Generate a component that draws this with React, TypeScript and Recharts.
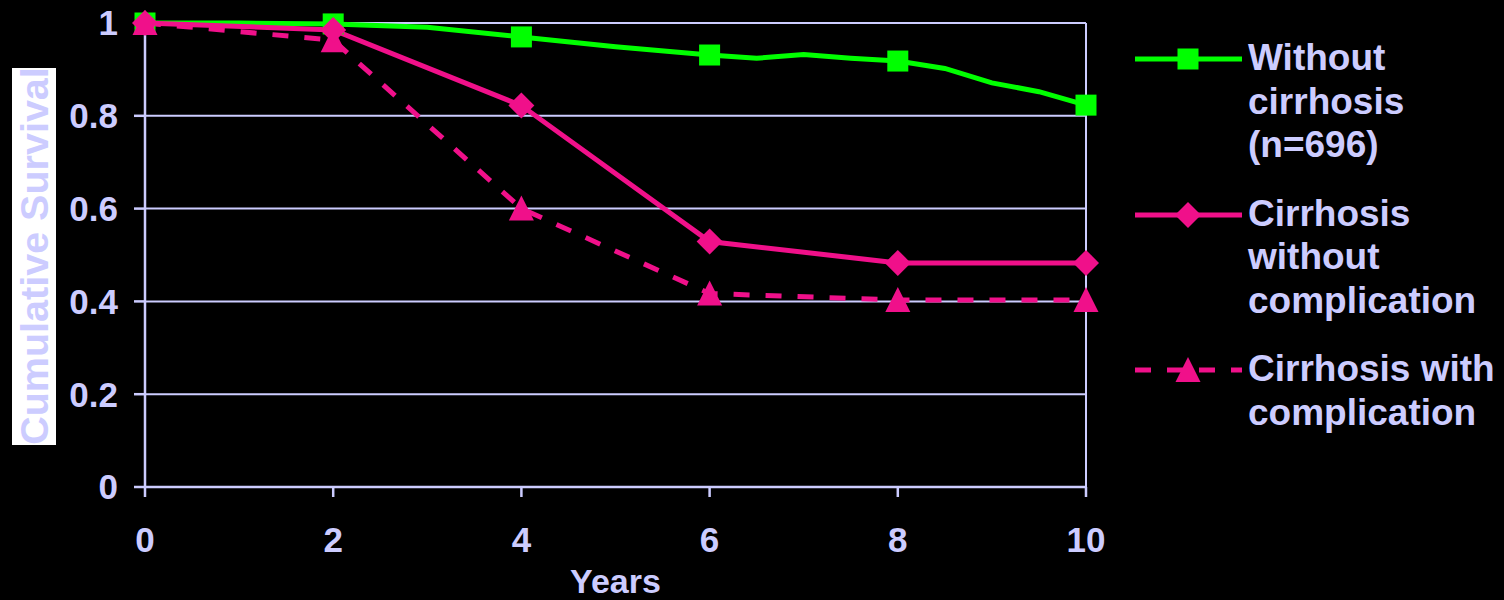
import React from "react"
import { LineChart, Line, XAxis, YAxis, CartesianGrid, ReferenceLine, Legend } from "recharts"

const years = [0, 1, 2, 3, 4, 5, 6, 6.5, 7, 7.5, 8, 8.5, 9, 9.5, 10]
const withoutCirrhosis = [1, 1, 0.998, 0.991, 0.97, 0.949, 0.931, 0.924, 0.932, 0.924, 0.918, 0.902, 0.871, 0.852, 0.823]

const cirrhosisYears = [0, 2, 4, 6, 8, 10]
const cirrhosisNoComp = [1, 0.985, 0.822, 0.529, 0.483, 0.483]

const compYears = [0, 2, 4, 6, 8, 10]
const cirrhosisComp = [1, 0.963, 0.6, 0.417, 0.403, 0.403]

const xTicks = [0, 2, 4, 6, 8, 10]
const yTicks = [0, 0.2, 0.4, 0.6, 0.8, 1]

const legendLabels = [
  ["Without", "cirrhosis", "(n=696)"],
  ["Cirrhosis", "without", "complication"],
  ["Cirrhosis with", "complication"],
]

const LAV = "#ccccff"
const GREEN = "#00ff00"
const PINK = "#f0108a"
const FONT = "'Liberation Sans', Arial, sans-serif"

const greenData = years.map((year, i) => ({ year, value: withoutCirrhosis[i] }))
const solidData = cirrhosisYears.map((year, i) => ({ year, value: cirrhosisNoComp[i] }))
const dashData = compYears.map((year, i) => ({ year, value: cirrhosisComp[i] }))

const Square = ({ cx, cy }: any) => (
  <rect x={cx - 10.5} y={cy - 10.5} width={21} height={21} fill={GREEN} />
)
const Diamond = ({ cx, cy }: any) => (
  <polygon points={`${cx},${cy - 13} ${cx + 13},${cy} ${cx},${cy + 13} ${cx - 13},${cy}`} fill={PINK} />
)
const Triangle = ({ cx, cy }: any) => (
  <polygon points={`${cx},${cy - 13} ${cx + 12.5},${cy + 12} ${cx - 12.5},${cy + 12}`} fill={PINK} />
)

// markers only on the even years
const markerDot = (Shape: any) => (props: any) => {
  const { cx, cy, payload, index } = props
  if (payload.year % 2 !== 0) return <g key={`d-${index}`} />
  return <Shape key={`d-${index}`} cx={cx} cy={cy} />
}

const legendMarks = [
  { color: GREEN, dash: undefined, Shape: Square },
  { color: PINK, dash: undefined, Shape: Diamond },
  { color: PINK, dash: "16 16", Shape: Triangle },
]

const renderLegend = () => (
  <div style={{ fontFamily: FONT, fontWeight: 700, fontSize: 37, color: LAV, lineHeight: "43.5px" }}>
    {legendLabels.map((lines, i) => {
      const m = legendMarks[i]
      return (
        <div key={i} style={{ display: "flex", alignItems: "flex-start", marginBottom: 25 }}>
          <svg width={113} height={44} style={{ flexShrink: 0 }}>
            <line x1={0} x2={107} y1={23} y2={23} stroke={m.color} strokeWidth={5} strokeDasharray={m.dash} />
            <m.Shape cx={53} cy={23} />
          </svg>
          <div style={{ whiteSpace: "nowrap" }}>
            {lines.map((l) => (
              <div key={l}>{l}</div>
            ))}
          </div>
        </div>
      )
    })}
  </div>
)

const YLabel = () => (
  <g>
    <rect x={12} y={68} width={44} height={377} fill="#ffffff" />
    <text
      x={34}
      y={256}
      transform="rotate(-90 34 256)"
      textAnchor="middle"
      dominantBaseline="central"
      fill={LAV}
      fontFamily={FONT}
      fontWeight={700}
      fontSize={39.5}
    >
      Cumulative Survival
    </text>
  </g>
)

const tickStyle = { fill: LAV, fontFamily: FONT, fontWeight: 700, fontSize: 35 }

export default function App() {
  return (
    <div style={{ position: "absolute", left: 0, top: 0, width: 1504, height: 600, background: "#000" }}>
      <LineChart width={1504} height={600} margin={{ top: 23, right: 418, left: 0, bottom: 0 }}>
        <CartesianGrid horizontal vertical={false} stroke={LAV} strokeWidth={2} />
        <XAxis
          dataKey="year"
          type="number"
          domain={[0, 10]}
          ticks={xTicks}
          height={113}
          stroke={LAV}
          strokeWidth={2.5}
          tickSize={10}
          tickMargin={30}
          tick={tickStyle}
          allowDuplicatedCategory={false}
          label={{ value: "Years", position: "insideBottom", offset: 7, fill: LAV, fontFamily: FONT, fontWeight: 700, fontSize: 34 }}
        />
        <YAxis
          type="number"
          domain={[0, 1]}
          ticks={yTicks}
          width={145}
          stroke={LAV}
          strokeWidth={2.5}
          tickSize={11}
          tickMargin={16}
          tick={tickStyle}
          label={{ content: <YLabel /> }}
        />
        <ReferenceLine x={10} stroke={LAV} strokeWidth={2} />
        <Legend layout="vertical" align="center" verticalAlign="middle" content={renderLegend} wrapperStyle={{ left: 1135, top: 36, width: 369 }} />
        <Line
          data={greenData}
          dataKey="value"
          name="Without cirrhosis (n=696)"
          stroke={GREEN}
          strokeWidth={5}
          dot={markerDot(Square)}
          activeDot={false}
          isAnimationActive={false}
        />
        <Line
          data={dashData}
          dataKey="value"
          name="Cirrhosis with complication"
          stroke={PINK}
          strokeWidth={5}
          strokeDasharray="16 16"
          dot={markerDot(Triangle)}
          activeDot={false}
          isAnimationActive={false}
        />
        <Line
          data={solidData}
          dataKey="value"
          name="Cirrhosis without complication"
          stroke={PINK}
          strokeWidth={5}
          dot={markerDot(Diamond)}
          activeDot={false}
          isAnimationActive={false}
        />
      </LineChart>
    </div>
  )
}
